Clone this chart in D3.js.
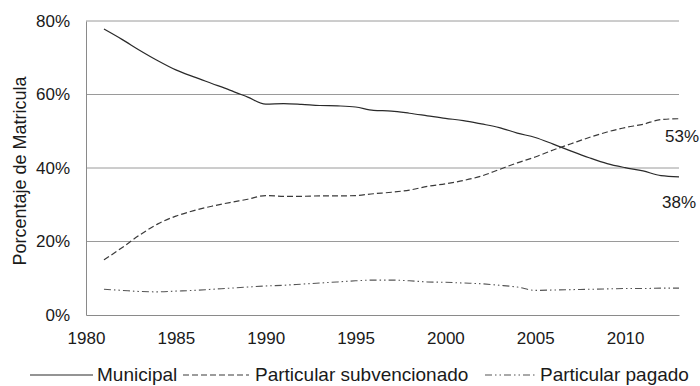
<!DOCTYPE html>
<html><head><meta charset="utf-8">
<script src="https://cdn.jsdelivr.net/npm/d3@7"></script>
<style>body{margin:0;background:#fff}svg{display:block}text{font-family:"Liberation Sans",Arial,sans-serif;fill:#1a1a1a}</style>
</head><body><svg id="c" width="700" height="386"></svg>
<script>
const years = d3.range(1981, 2014);
const municipal = [77.8,75.0,72.0,69.2,66.7,64.8,63.0,61.2,59.3,57.4,57.5,57.3,57.0,56.9,56.6,55.7,55.5,54.9,54.2,53.5,52.9,52.0,51.0,49.5,48.3,46.5,44.6,42.8,41.2,40.1,39.2,37.9,37.6];
const subvencionado = [15.0,18.3,21.8,24.8,26.9,28.4,29.6,30.6,31.5,32.5,32.3,32.3,32.4,32.4,32.5,33.0,33.4,34.0,35.0,35.7,36.6,37.8,39.6,41.4,43.0,44.9,46.6,48.3,49.8,51.0,51.9,53.2,53.4];
const pagado = [7.0,6.7,6.4,6.3,6.5,6.7,7.0,7.3,7.6,7.9,8.1,8.4,8.7,9.0,9.3,9.5,9.5,9.3,9.0,8.9,8.7,8.5,8.1,7.6,6.7,6.8,6.9,7.0,7.1,7.2,7.2,7.3,7.3];
const xTicks = [1980,1985,1990,1995,2000,2005,2010];
const yTicks = [0,20,40,60,80];
const seriesNames = ["Municipal","Particular subvencionado","Particular pagado"];
const endLabels = ["53%","38%"];

const svg = d3.select("#c");
const x = d3.scaleLinear().domain([1980,2013]).range([86,679]);
const y = d3.scaleLinear().domain([0,80]).range([315,21]);

svg.append("g").selectAll("line").data(yTicks.filter(d=>d>0)).join("line")
  .attr("x1",86).attr("x2",679).attr("y1",d=>y(d)).attr("y2",d=>y(d))
  .attr("stroke","#9a9a9a").attr("stroke-width",1);

const yAxis = svg.append("g").attr("transform","translate(86,0)")
  .call(d3.axisLeft(y).tickValues(yTicks).tickSize(0).tickPadding(16).tickFormat(d=>d+"%"));
yAxis.select(".domain").attr("stroke","#8a8a8a");
yAxis.selectAll("text").style("font-size","17px").attr("fill","#1a1a1a");

const xAxis = svg.append("g").attr("transform","translate(0,315)")
  .call(d3.axisBottom(x).tickValues(xTicks).tickSize(0).tickPadding(17).tickFormat(d3.format("d")));
xAxis.select(".domain").attr("stroke","#8a8a8a");
xAxis.selectAll("text").style("font-size","17px").attr("fill","#1a1a1a");

svg.append("text").attr("transform","translate(26,171) rotate(-90)")
  .attr("text-anchor","middle").style("font-size","18px").text("Porcentaje de Matricula");

const line = d3.line().x((d,i)=>x(years[i])).y(d=>y(d)).curve(d3.curveMonotoneX);
const styles = [
  {data:municipal, dash:null, color:"#2a2a2a", w:1.2},
  {data:subvencionado, dash:"6,3", color:"#3a3a3a", w:1.2},
  {data:pagado, dash:"7,3,1.5,3,1.5,3", color:"#555", w:1.1}
];
styles.forEach(s=>{
  svg.append("path").attr("d",line(s.data)).attr("fill","none")
    .attr("stroke",s.color).attr("stroke-width",s.w)
    .attr("stroke-dasharray",s.dash);
});

svg.append("text").attr("x",665).attr("y",142).style("font-size","17px").text(endLabels[0]);
svg.append("text").attr("x",662).attr("y",208).style("font-size","17px").text(endLabels[1]);

const leg = [
  {x1:30,x2:93,tx:97},
  {x1:183,x2:249,tx:255},
  {x1:485,x2:536,tx:540}
];
leg.forEach((l,i)=>{
  const s = styles[i];
  svg.append("line").attr("x1",l.x1).attr("x2",l.x2).attr("y1",375).attr("y2",375)
    .attr("stroke",s.color).attr("stroke-width",s.w).attr("stroke-dasharray",s.dash);
  svg.append("text").attr("x",l.tx).attr("y",381).style("font-size","19px").text(seriesNames[i]);
});
</script></body></html>
